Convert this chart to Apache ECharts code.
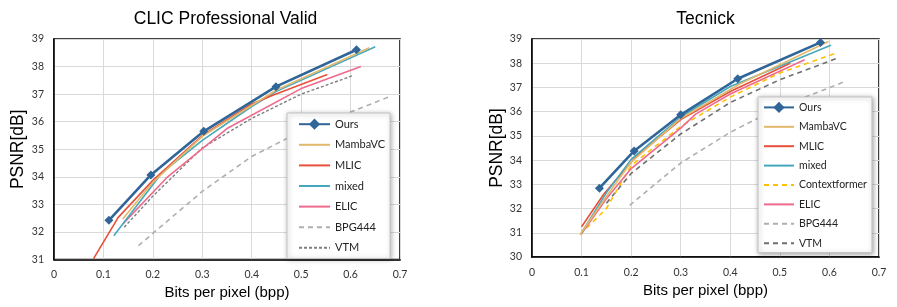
<!DOCTYPE html>
<html>
<head>
<meta charset="utf-8">
<script src="https://cdn.jsdelivr.net/npm/echarts@6/dist/echarts.min.js"></script>
<style>html,body{margin:0;padding:0;background:#fff}#c{width:897px;height:307px}</style>
</head>
<body>
<div id="c"></div>
<script>
// ---- data: CLIC Professional Valid (left) ----
const clicTitle = 'CLIC Professional Valid';
const clicOurs = [[0.111,32.42],[0.196,34.07],[0.303,35.65],[0.449,37.27],[0.612,38.61]];
const clicMamba = [[0.139,32.47],[0.2,33.8],[0.3,35.47],[0.45,37.15],[0.638,38.68]];
const clicMLIC = [[0.08,31.03],[0.13,32.53],[0.2,33.87],[0.3,35.5],[0.4,36.64],[0.444,36.97],[0.553,37.71]];
const clicMixed = [[0.121,31.86],[0.218,34.14],[0.3,35.32],[0.4,36.55],[0.45,37.1],[0.65,38.72]];
const clicELIC = [[0.14,32.3],[0.23,34.0],[0.35,35.75],[0.5,37.2],[0.621,38.0]];
const clicBPG = [[0.171,31.5],[0.2,31.95],[0.3,33.47],[0.4,34.74],[0.5,35.65],[0.6,36.35],[0.682,36.93]];
const clicVTM = [[0.142,32.17],[0.2,33.3],[0.3,35.05],[0.4,36.12],[0.5,37.0],[0.606,37.68]];

// ---- data: Tecnick (right) ----
const tecTitle = 'Tecnick';
const tecOurs = [[0.136,32.84],[0.206,34.38],[0.3,35.87],[0.415,37.36],[0.582,38.86]];
const tecMamba = [[0.097,30.93],[0.15,32.5],[0.2,33.92],[0.3,35.72],[0.42,37.15],[0.598,38.9]];
const tecMLIC = [[0.1,31.25],[0.145,32.6],[0.21,34.15],[0.3,35.67],[0.4,36.83],[0.521,38.0]];
const tecMixed = [[0.1,31.0],[0.15,32.65],[0.2,34.03],[0.3,35.78],[0.4,37.04],[0.603,38.74]];
const tecContext = [[0.097,30.93],[0.15,32.0],[0.2,33.78],[0.3,35.39],[0.4,36.6],[0.5,37.6],[0.614,38.42]];
const tecELIC = [[0.099,30.94],[0.15,32.4],[0.2,33.65],[0.3,35.32],[0.33,35.9],[0.4,36.73],[0.55,38.14]];
const tecBPG = [[0.197,32.13],[0.3,33.88],[0.4,35.15],[0.5,36.19],[0.627,37.21]];
const tecVTM = [[0.15,32.22],[0.2,33.45],[0.3,35.08],[0.4,36.38],[0.5,37.32],[0.614,38.19]];

const clicLegend = ['Ours','MambaVC','MLIC','mixed','ELIC','BPG444','VTM'];
const tecLegend = ['Ours','MambaVC','MLIC','mixed','Contextformer','ELIC','BPG444','VTM'];
const xName = 'Bits per pixel (bpp)';
const yName = 'PSNR[dB]';
const clicYRange = [31, 39];
const tecYRange = [30, 39];
const xRange = [0, 0.7];

const C = {
  Ours:'#2F6598', MambaVC:'#E3B86A', MLIC:'#E8503A', mixed:'#45A8BC',
  Contextformer:'#FFC000', ELIC:'#EF6A8C', BPG444:'#AFAFAF', VTM:'#7F7F7F'
};
const FONT = 'Liberation Sans';
const SFONT = 'Lato';

function mk(name, data, idx, extra) {
  const s = {
    name, type:'line', data, xAxisIndex: idx, yAxisIndex: idx,
    symbol:'none', smooth:false, animation:false,
    lineStyle:{color:C[name], width:1.6},
    itemStyle:{color:C[name]},
    z: 2
  };
  return Object.assign(s, extra || {});
}
const oursExtra = {symbol:'diamond', symbolSize:9, showSymbol:true,
  lineStyle:{color:C.Ours, width:2.6}, itemStyle:{color:C.Ours}, z:5};

function xAx(idx){
  return {gridIndex: idx, type:'value', min:xRange[0], max:xRange[1], interval:0.1,
    name:xName, nameLocation:'middle', nameGap:25,
    nameTextStyle:{fontFamily:FONT, fontSize:15, color:'#000'},
    axisLine:{show:true, onZero:false, lineStyle:{color:'#000', width:1.5}},
    axisTick:{show:false},
    axisLabel:{fontFamily:SFONT, fontSize:10.5, color:'#333', margin:10,
      formatter: v => String(+v.toFixed(1))},
    splitLine:{show:true, lineStyle:{color:'#d9d9d9', width:1}}};
}
function yAx(idx, r, gap){
  return {gridIndex: idx, type:'value', min:r[0], max:r[1], interval:1,
    name:yName, nameLocation:'middle', nameGap:gap,
    nameTextStyle:{fontFamily:FONT, fontSize:17.5, color:'#000'},
    axisLine:{show:true, onZero:false, lineStyle:{color:'#000', width:1.5}},
    axisTick:{show:false},
    axisLabel:{fontFamily:SFONT, fontSize:10.5, color:'#333', margin:10},
    splitLine:{show:true, lineStyle:{color:'#d9d9d9', width:1}}};
}
function legendItem(n, extraLine) {
  if (n === 'Ours') return {name:n};
  const it = {name:n, itemStyle:{opacity:0, borderWidth:0}};
  if (extraLine) it.lineStyle = extraLine;
  return it;
}
function legend(left, top, data, padding, gap, iw, fs){
  return {left, top, orient:'vertical', data, padding, itemGap:gap,
    itemWidth:iw, itemHeight:14, selectedMode:false,
    backgroundColor:'#fff', borderColor:'#c4c4c4', borderWidth:1,
    shadowBlur:5, shadowColor:'rgba(0,0,0,0.35)', shadowOffsetX:1, shadowOffsetY:1,
    textStyle:{fontFamily:SFONT, fontSize:fs, color:'#222'}};
}

const chart = echarts.init(document.getElementById('c'), null, {renderer:'canvas'});
chart.setOption({
  animation:false,
  backgroundColor:'#fff',
  title:[
    {text:clicTitle, left:225.5, top:10, textAlign:'center', padding:0,
     textStyle:{fontFamily:FONT, fontSize:17.5, fontWeight:'normal', color:'#000'}},
    {text:tecTitle, left:705.5, top:10, textAlign:'center', padding:0,
     textStyle:{fontFamily:FONT, fontSize:17.5, fontWeight:'normal', color:'#000'}}
  ],
  grid:[
    {left:54, top:39, width:346, height:220.5, show:true, borderColor:'#000', borderWidth:1.5, backgroundColor:'transparent', containLabel:false},
    {left:532, top:39, width:347, height:218, show:true, borderColor:'#000', borderWidth:1.5, backgroundColor:'transparent', containLabel:false}
  ],
  xAxis:[xAx(0), xAx(1)],
  yAxis:[yAx(0, clicYRange, 27), yAx(1, tecYRange, 26)],
  legend:[
    legend(287, 113, clicLegend.map(n => legendItem(n)), [5.6, 5, 5, 11], 9.4, 31, 11),
    legend(758, 97, tecLegend.map(n => legendItem(n, n === 'VTM' ? {type:[5,4], color:'#6f6f6f'} : null)), [4.8, 5, 3.8, 5], 8.2, 30, 10.5)
  ],
  series:[
    mk('BPG444', clicBPG, 0, {lineStyle:{color:C.BPG444, width:1.6, type:[5,4]}}),
    mk('VTM', clicVTM, 0, {lineStyle:{color:C.VTM, width:1.4, type:[3,2]}}),
    mk('ELIC', clicELIC, 0),
    mk('mixed', clicMixed, 0),
    mk('MLIC', clicMLIC, 0),
    mk('MambaVC', clicMamba, 0),
    mk('Ours', clicOurs, 0, oursExtra),

    mk('BPG444', tecBPG, 1, {lineStyle:{color:C.BPG444, width:1.6, type:[5,4]}}),
    mk('VTM', tecVTM, 1, {lineStyle:{color:'#6f6f6f', width:1.6, type:[5,4]}}),
    mk('Contextformer', tecContext, 1, {lineStyle:{color:C.Contextformer, width:1.6, type:[5,4]}}),
    mk('ELIC', tecELIC, 1),
    mk('MLIC', tecMLIC, 1),
    mk('mixed', tecMixed, 1),
    mk('MambaVC', tecMamba, 1),
    mk('Ours', tecOurs, 1, Object.assign({}, oursExtra, {xAxisIndex:1, yAxisIndex:1}))
  ]
});
</script>
</body>
</html>
